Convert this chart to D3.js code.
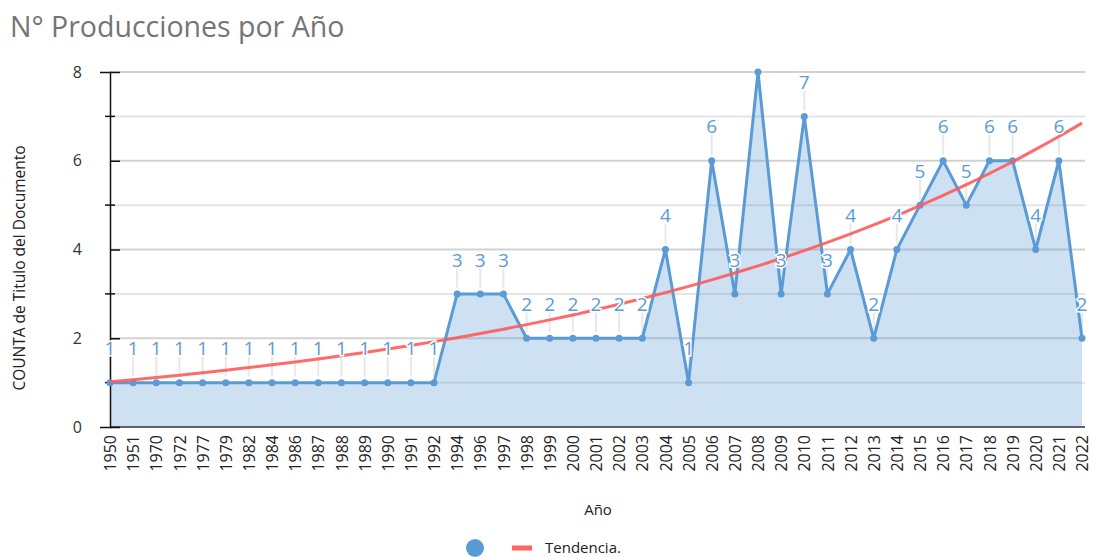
<!DOCTYPE html>
<html>
<head>
<meta charset="utf-8">
<script src="https://cdn.jsdelivr.net/npm/d3@7"></script>
<style>
  body { margin: 0; background: #fff; }
  text { font-family: "Open Sans", "Noto Sans", sans-serif; }
</style>
</head>
<body>
<div id="chart"></div>
<script>
const years = ['1950', '1951', '1970', '1972', '1977', '1979', '1982', '1984', '1986', '1987',
    '1988', '1989', '1990', '1991', '1992', '1994', '1996', '1997', '1998', '1999', '2000',
    '2001', '2002', '2003', '2004', '2005', '2006', '2007', '2008', '2009', '2010', '2011',
    '2012', '2013', '2014', '2015', '2016', '2017', '2018', '2019', '2020', '2021', '2022'];
const counts = [1, 1, 1, 1, 1, 1, 1, 1, 1, 1,
    1, 1, 1, 1, 1, 3, 3, 3, 2, 2, 2,
    2, 2, 2, 4, 1, 6, 3, 8, 3, 7, 3,
    4, 2, 4, 5, 6, 5, 6, 6, 4, 6, 2];
const yTicks = [0, 2, 4, 6, 8];
// exponential trend y = a * e^(b * index), coefficients
const trendCoef = [1.02, 0.04534];

const width = 1093;
const height = 557;
const margin = { top: 72, right: 8, bottom: 130, left: 110 };
const blue = '#5b9bd5';

const svg = d3.select('#chart')
    .append('svg')
    .attr('width', width)
    .attr('height', height);

const x = d3.scalePoint()
    .domain(years)
    .range([margin.left, 1082]);

const y = d3.scaleLinear()
    .domain([0, 8])
    .range([height - margin.bottom, margin.top]);

// title
svg.append('text')
    .attr('x', 10)
    .attr('y', 37)
    .attr('font-size', '28.5px')
    .attr('fill', '#757575')
    .text('N° Producciones por Año');

// grid lines
svg.append('g')
    .selectAll('line')
    .data(d3.range(1, 9))
    .join('line')
    .attr('x1', margin.left)
    .attr('x2', width - margin.right)
    .attr('y1', d => y(d))
    .attr('y2', d => y(d))
    .attr('stroke', d => d % 2 === 0 ? '#d2d2d2' : '#e4e4e4')
    .attr('stroke-width', 2);

// leader lines for labels
const labelled = counts.map((c, i) => ({ year: years[i], count: c }))
    .filter(d => d.count < 8);

svg.append('g')
    .selectAll('line')
    .data(labelled)
    .join('line')
    .attr('x1', d => x(d.year))
    .attr('x2', d => x(d.year))
    .attr('y1', d => y(d.count) - 6)
    .attr('y2', d => y(d.count) - 26)
    .attr('stroke', '#e8e8e8')
    .attr('stroke-width', 2);

const area = d3.area()
    .x((d, i) => x(years[i]))
    .y0(y(0))
    .y1(d => y(d));

svg.append('path')
    .datum(counts)
    .attr('d', area)
    .attr('fill', blue)
    .attr('fill-opacity', 0.3);

// y axis
function yAxis(g) {
    g.attr('transform', `translate(${margin.left},0)`)
        .call(d3.axisLeft(y).tickValues(yTicks).tickSize(10).tickPadding(18))
        .attr('font-size', '16px')
        .call(g => g.select('.domain').attr('stroke', '#111').attr('stroke-width', 1.5))
        .call(g => g.selectAll('.tick line').attr('x2', 10).attr('stroke', '#111').attr('stroke-width', 1.5))
        .call(g => g.selectAll('.tick text').attr('fill', '#333'));
}

svg.append('g')
    .selectAll('line')
    .data(d3.range(1, 8, 2))
    .join('line')
    .attr('x1', margin.left - 5)
    .attr('x2', margin.left + 5)
    .attr('y1', d => y(d))
    .attr('y2', d => y(d))
    .attr('stroke', '#111')
    .attr('stroke-width', 1.5);

function xAxis(g) {
    g.attr('transform', `translate(0,${y(0)})`)
        .call(d3.axisBottom(x).tickSize(0).tickPadding(6))
        .attr('font-size', '16px')
        .call(g => g.select('.domain').attr('stroke', '#333').attr('stroke-width', 1.5)
            .attr('d', `M${margin.left},0H${width - margin.right}`))
        .call(g => g.selectAll('.tick text')
            .attr('fill', '#222')
            .attr('text-anchor', 'end')
            .attr('transform', 'rotate(-90)')
            .attr('x', -8)
            .attr('y', 0)
            .attr('dy', '0.35em'));
}

svg.append('g').call(xAxis);
svg.append('g').call(yAxis);

const line = d3.line()
    .x((d, i) => x(years[i]))
    .y(d => y(d));

svg.append('path')
    .datum(counts)
    .attr('d', line)
    .attr('fill', 'none')
    .attr('stroke', blue)
    .attr('stroke-width', 3)
    .attr('stroke-linejoin', 'round');

svg.append('g')
    .attr('fill', blue)
    .selectAll('circle')
    .data(counts)
    .join('circle')
    .attr('cx', (d, i) => x(years[i]))
    .attr('cy', d => y(d))
    .attr('r', 3.5);

// trend line
const trendLine = d3.line()
    .x(d => x(years[d]))
    .y(d => y(trendCoef[0] * Math.exp(trendCoef[1] * d)))
    .curve(d3.curveMonotoneX);

svg.append('path')
    .datum(d3.range(years.length))
    .attr('d', trendLine)
    .attr('fill', 'none')
    .attr('stroke', '#ff5a5a')
    .attr('stroke-opacity', 0.9)
    .attr('stroke-width', 3);

// data labels
svg.append('g')
    .selectAll('text')
    .data(labelled)
    .join('text')
    .attr('x', d => x(d.year))
    .attr('y', d => y(d.count) - 34)
    .attr('dy', '0.35em')
    .attr('text-anchor', 'middle')
    .attr('font-size', '19px')
    .attr('fill', blue)
    .attr('stroke', '#fff')
    .attr('stroke-width', 3)
    .attr('paint-order', 'stroke')
    .text(d => d.count);

// axis titles
svg.append('text')
    .attr('x', 598)
    .attr('y', 515)
    .attr('text-anchor', 'middle')
    .attr('font-size', '15px')
    .attr('fill', '#222')
    .text('Año');

svg.append('text')
    .attr('transform', `translate(25,268) rotate(-90)`)
    .attr('text-anchor', 'middle')
    .attr('font-size', '15.5px')
    .attr('fill', '#222')
    .text('COUNTA de Titulo del Documento');

// legend
const legend = svg.append('g').attr('transform', 'translate(475,548)');
legend.append('circle').attr('r', 9).attr('fill', blue);
legend.append('line')
    .attr('x1', 37).attr('x2', 57)
    .attr('stroke', '#ff6464').attr('stroke-width', 5);
legend.append('text')
    .attr('x', 70)
    .attr('dy', '0.35em')
    .attr('font-size', '15px')
    .attr('fill', '#222')
    .text('Tendencia.');
</script>
</body>
</html>
